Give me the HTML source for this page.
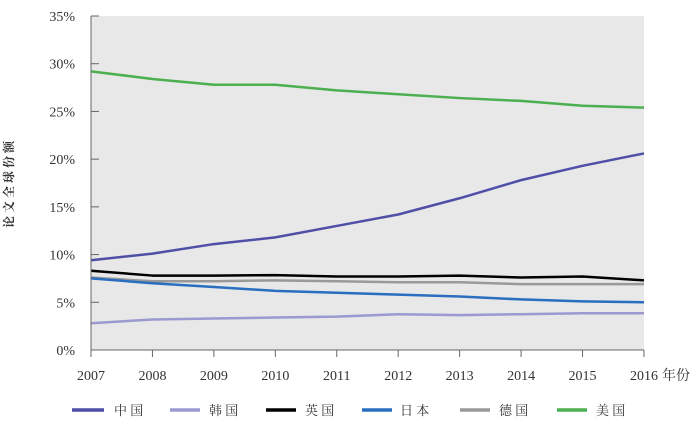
<!DOCTYPE html>
<html><head><meta charset="utf-8"><style>
body{margin:0;background:#fff;width:700px;height:426px;overflow:hidden}
text{font-family:"Liberation Serif","Noto Serif CJK SC",serif;fill:#333}
</style></head><body>
<svg id="s" width="700" height="426" xmlns="http://www.w3.org/2000/svg">
<rect x="91" y="16" width="553" height="334" fill="#e8e8e8"/>
<g id="g"></g>
<line x1="91" y1="16" x2="91" y2="350" stroke="#666" stroke-width="1"/>
<line x1="91" y1="350" x2="644" y2="350" stroke="#666" stroke-width="1"/>
<text x="13" y="183" font-size="12" font-weight="bold" text-anchor="middle" transform="rotate(-90 13 183)" letter-spacing="3">论文全球份额</text>
<g font-size="13">
<line x1="72" y1="410" x2="104" y2="410" stroke="#4f4fa8" stroke-width="3.5"/><text x="114" y="415">中 国</text>
<line x1="170" y1="410" x2="200" y2="410" stroke="#9a9ad0" stroke-width="3.5"/><text x="209" y="415">韩 国</text>
<line x1="266" y1="410" x2="296" y2="410" stroke="#000" stroke-width="3.5"/><text x="305" y="415">英 国</text>
<line x1="362" y1="410" x2="392" y2="410" stroke="#2a6ec0" stroke-width="3.5"/><text x="400" y="415">日 本</text>
<line x1="460" y1="410" x2="490" y2="410" stroke="#999" stroke-width="3.5"/><text x="499" y="415">德 国</text>
<line x1="557" y1="410" x2="587" y2="410" stroke="#4caf50" stroke-width="3.5"/><text x="596" y="415">美 国</text>
</g>
</svg>
<script>
var g=document.getElementById('g'),h='';
function Y(v){return 350-v*9.543}function X(i){return 91+i*61.44}
for(var k=0;k<=7;k++){var y=Y(k*5);if(k>0)h+='<line x1="91" x2="99" y1="'+y+'" y2="'+y+'" stroke="#666"/>';h+='<text x="75" y="'+(y+5)+'" font-size="14" text-anchor="end">'+(k*5)+'%</text>';}
for(var i=0;i<10;i++){var x=X(i);h+='<line x1="'+x+'" x2="'+x+'" y1="350" y2="357" stroke="#666"/>';h+='<text x="'+x+'" y="380" font-size="14" text-anchor="middle">'+(2007+i)+'</text>';}
h+='<text x="662" y="380" font-size="14">年份</text>';
var S=[["#999",[7.6,7.2,7.2,7.3,7.2,7.1,7.1,6.9,6.9,6.9]],
["#000",[8.3,7.8,7.8,7.85,7.7,7.7,7.8,7.6,7.7,7.3]],
["#2a6ec0",[7.5,7.0,6.6,6.2,6.0,5.8,5.6,5.3,5.1,5.0]],
["#9a9ad0",[2.8,3.2,3.3,3.4,3.5,3.75,3.65,3.75,3.85,3.85]],
["#4f4fa8",[9.4,10.1,11.1,11.8,13.0,14.2,15.9,17.8,19.3,20.6]],
["#4caf50",[29.2,28.4,27.8,27.8,27.2,26.8,26.4,26.1,25.6,25.4]]];
S.forEach(function(s){var p=s[1].map(function(v,i){return X(i)+','+Y(v)}).join(' ');h+='<polyline points="'+p+'" fill="none" stroke="'+s[0]+'" stroke-width="2.5" stroke-linejoin="round"/>';});
g.innerHTML=h;
</script>
</body></html>
